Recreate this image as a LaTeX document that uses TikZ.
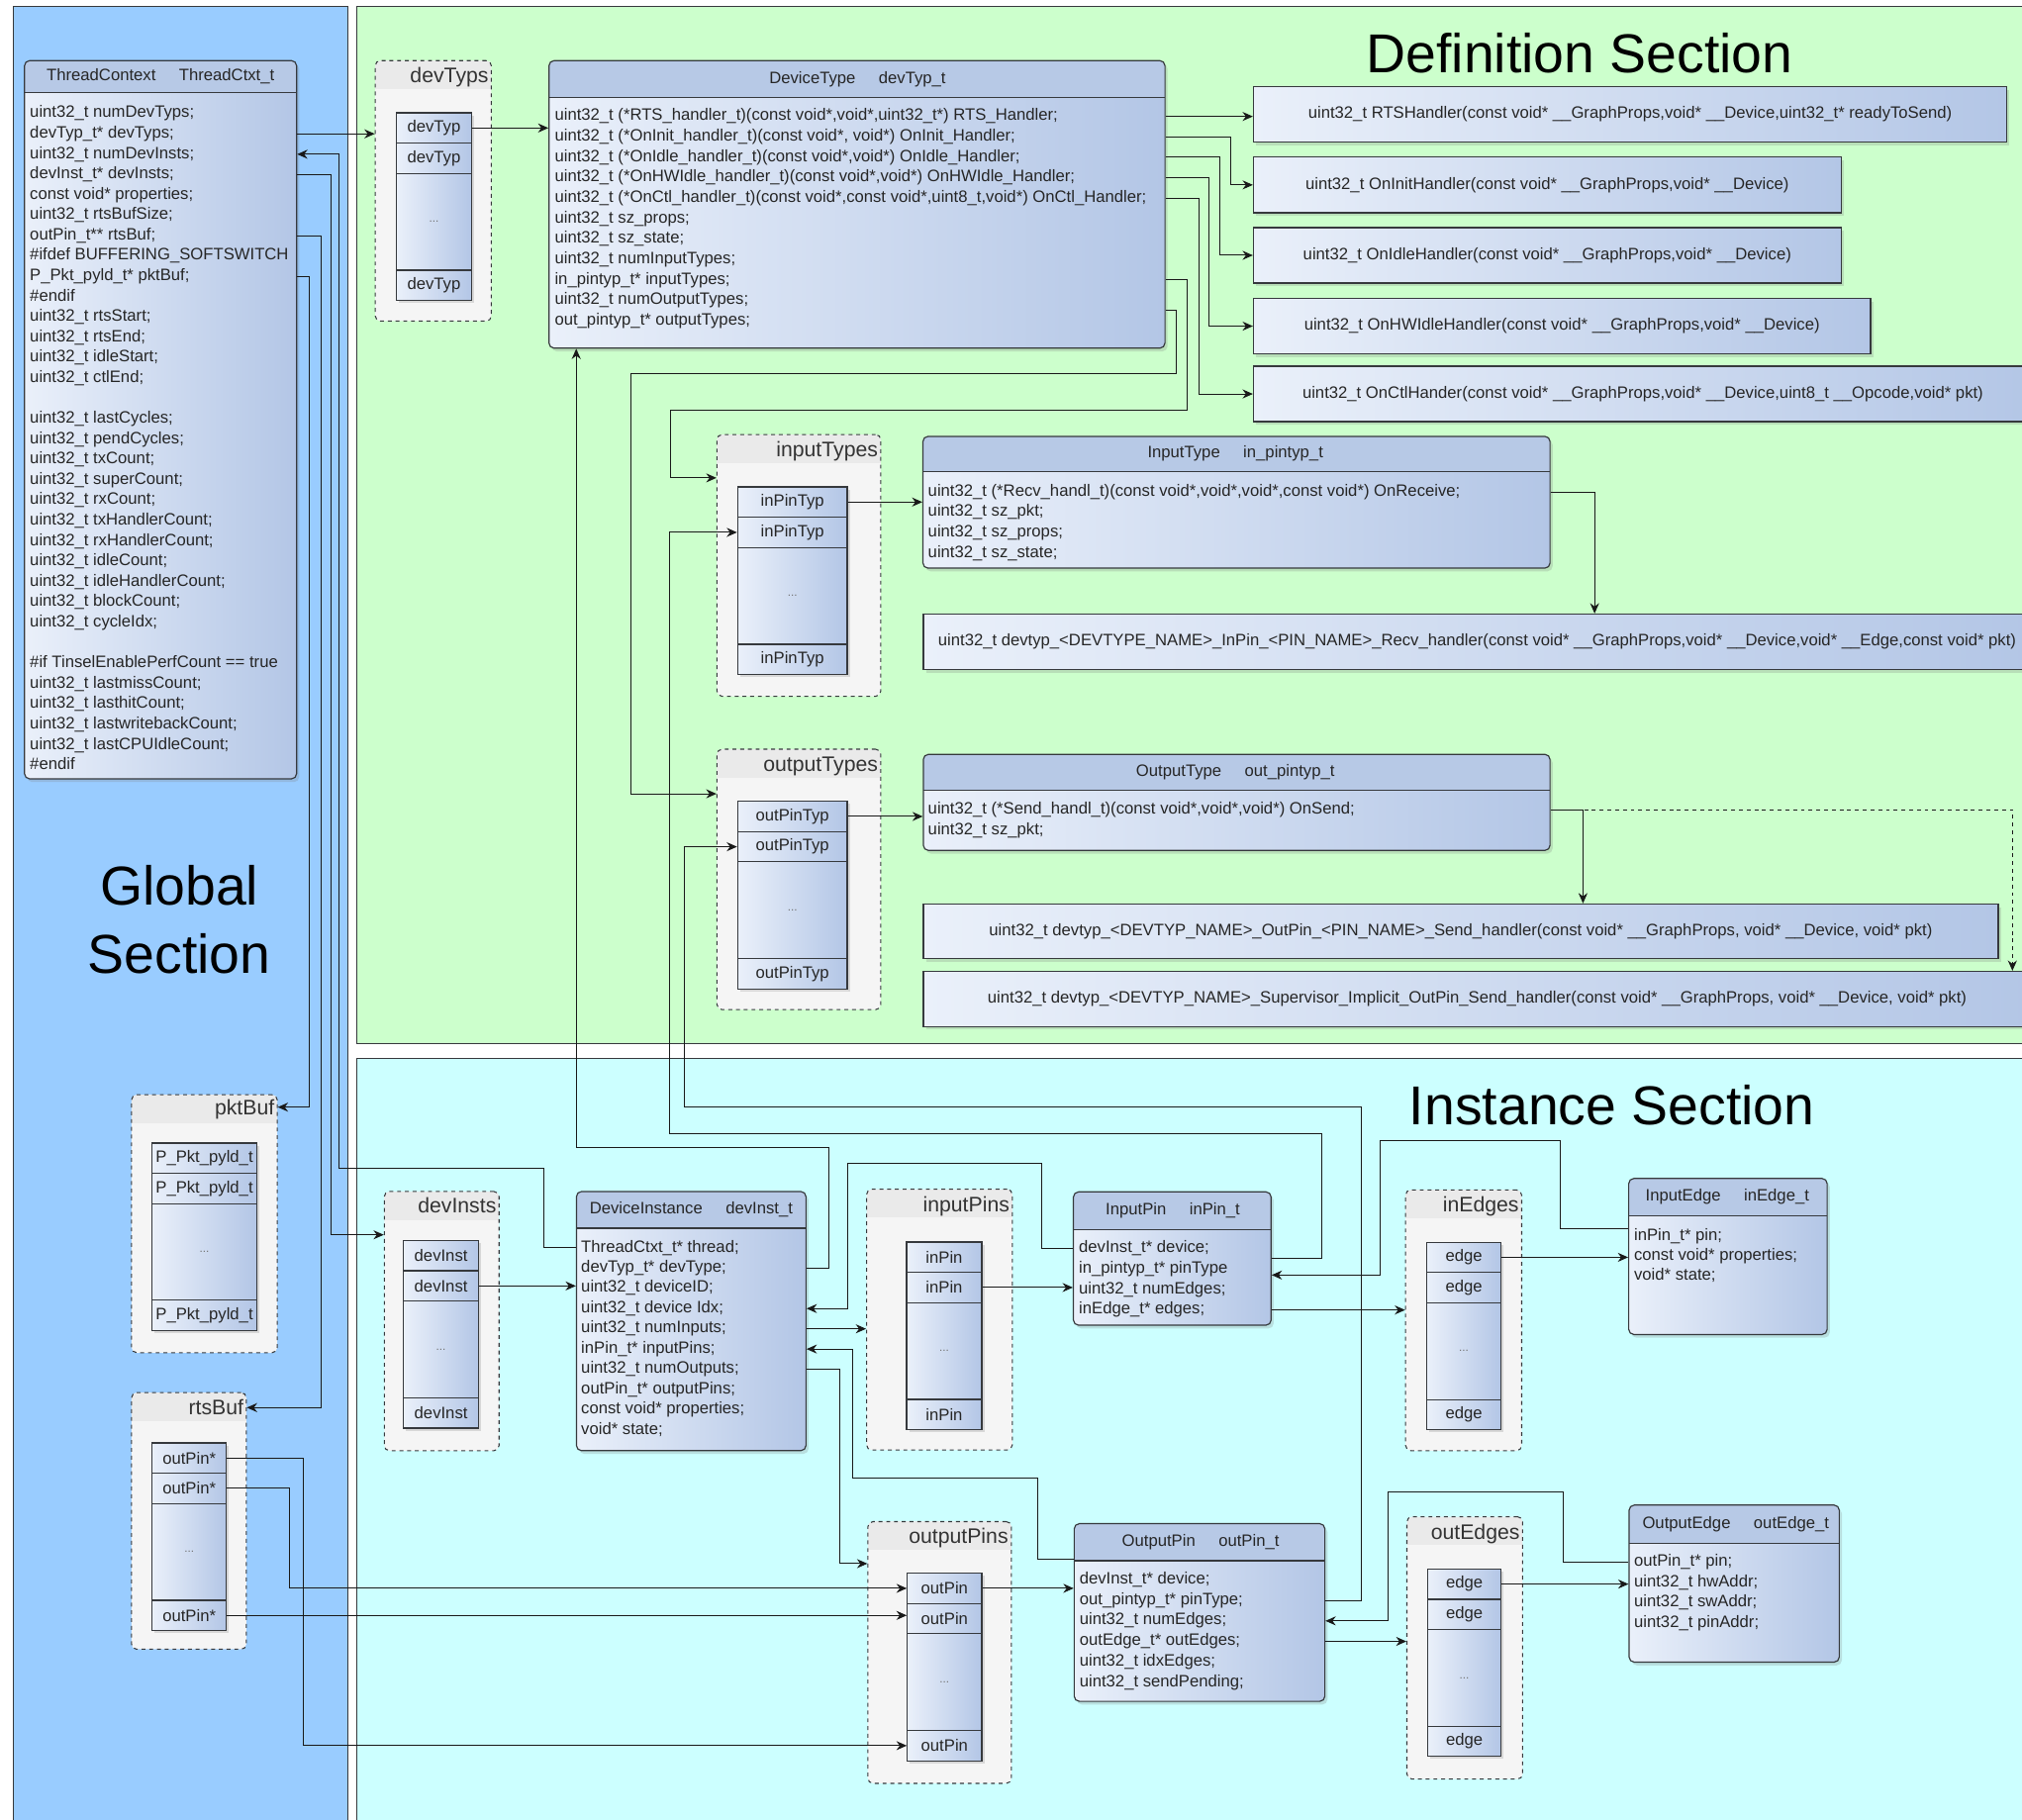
\documentclass[tikz,border=0pt]{standalone}
\usepackage{fontspec}
\setmainfont{Liberation Sans}
\usetikzlibrary{arrows.meta,shadows,calc}
\definecolor{globbg}{HTML}{99CCFF}
\definecolor{defbg}{HTML}{CCFFCC}
\definecolor{instbg}{HTML}{CCFFFF}
\definecolor{edgeline}{HTML}{36393D}
\definecolor{contfill}{HTML}{F5F5F5}
\definecolor{conthead}{HTML}{EAEAEA}
\definecolor{hdfill}{HTML}{B7C9E6}
\definecolor{lightblue}{HTML}{EAF0FA}
\definecolor{darkblue}{HTML}{B3C6E6}

\begin{document}
\begin{tikzpicture}[x=1pt,y=-1pt,
panel/.style={draw=edgeline,line width=0.8pt},
bigtitle/.style={inner sep=0,align=center,font=\fontsize{42.5}{53}\selectfont},
classbox/.style={draw=edgeline,line width=0.9pt,rounded corners=4pt,inner sep=0,left color=lightblue,right color=darkblue,drop shadow={opacity=0.25,shadow xshift=2pt,shadow yshift=-2.5pt},path picture={\fill[hdfill,sharp corners] (path picture bounding box.north west) rectangle ([yshift=-#1]path picture bounding box.north east);\draw[edgeline,line width=0.9pt,sharp corners] ([yshift=-#1]path picture bounding box.north west) -- ([yshift=-#1]path picture bounding box.north east);}},
classbox/.default=28pt,
container/.style={draw=edgeline,dashed,line width=0.8pt,rounded corners=4pt,fill=contfill,inner sep=0,path picture={\fill[conthead,sharp corners] (path picture bounding box.north west) rectangle ([yshift=-22pt]path picture bounding box.north east);}},
ctitle/.style={anchor=east,inner sep=0,font=\fontsize{16.3}{18}\selectfont,text=black!80,text height=11.8pt,text depth=3.4pt},
cell/.style={draw=edgeline,line width=0.9pt,left color=lightblue,right color=darkblue,minimum width=#1,minimum height=23.5pt,inner sep=0,font=\fontsize{12.8}{15}\selectfont,text=black!85,drop shadow={opacity=0.25,shadow xshift=2pt,shadow yshift=-2pt}},
dotcell/.style={cell=#1,minimum height=75pt,font=\fontsize{9}{10}\selectfont,text=black!55},
handler/.style={draw=edgeline,line width=0.9pt,left color=lightblue,right color=darkblue,inner sep=0,font=\fontsize{12.8}{15}\selectfont,text=black!85,drop shadow={opacity=0.25,shadow xshift=2pt,shadow yshift=-2.5pt}},
hdtext/.style={inner sep=0,font=\fontsize{12.8}{15}\selectfont,text=black!85,text height=9.2pt,text depth=2.8pt},
row/.style={anchor=west,inner sep=0,font=\fontsize{12.8}{15.8}\selectfont,text=black!85,text height=9.2pt,text depth=2.8pt},
ptr/.style={draw=black!90,line width=0.75pt,-{Stealth[length=8pt,width=7pt]}}]
\useasboundingbox (0,0) rectangle (1568,1411);
\clip (0,0) rectangle (1568,1411);
\fill[white] (0,0) rectangle (1568,1411);
\draw[panel,fill=globbg] (10,5) rectangle (270,1430);
\draw[panel,fill=defbg] (277,5) rectangle (1590,809);
\draw[panel,fill=instbg] (277,821) rectangle (1590,1430);
\node[bigtitle] (deftitle) at (1225,41) {Definition Section};
\node[bigtitle] (insttitle) at (1250,857) {Instance Section};
\node[bigtitle] (globtitle) at (139,713) {Global\\Section};
\node[container,minimum width=90,minimum height=202] (devtyps) at (336,148) {};
\node[ctitle] (devtyps-t) at (379,60) {devTyps};
\node[container,minimum width=127,minimum height=203] (intypes) at (619.5,438.5) {};
\node[ctitle] (intypes-t) at (681,350) {inputTypes};
\node[container,minimum width=127,minimum height=202] (outtypes) at (619.5,682) {};
\node[ctitle] (outtypes-t) at (681,594) {outputTypes};
\node[container,minimum width=113,minimum height=200] (pktbuf) at (158.5,949) {};
\node[ctitle] (pktbuf-t) at (213,860) {pktBuf};
\node[container,minimum width=89,minimum height=199] (rtsbuf) at (146.5,1179.5) {};
\node[ctitle] (rtsbuf-t) at (189,1093) {rtsBuf};
\node[container,minimum width=89,minimum height=201] (devinsts) at (342.5,1024.5) {};
\node[ctitle] (devinsts-t) at (385,936) {devInsts};
\node[container,minimum width=113,minimum height=202.2] (inpins) at (728.5,1023.4) {};
\node[ctitle] (inpins-t) at (783,935.5) {inputPins};
\node[container,minimum width=111.3,minimum height=203] (outpins) at (728.65,1281.5) {};
\node[ctitle] (outpins-t) at (782,1193) {outputPins};
\node[container,minimum width=90,minimum height=202.2] (inedges) at (1135,1023.9) {};
\node[ctitle] (inedges-t) at (1178,935.6) {inEdges};
\node[container,minimum width=89.7,minimum height=203.5] (outedges) at (1135.85,1277.95) {};
\node[ctitle] (outedges-t) at (1178.7,1189.5) {outEdges};
\node[classbox=25pt,minimum width=211,minimum height=557] (tc) at (124.5,325.5) {};
\node[hdtext] (tc-hd) at (124.5,59.5) {ThreadContext\hspace{18pt}ThreadCtxt\_t};
\node[row] (tc-1) at (23,88) {uint32\_t numDevTyps;};
\node[row] (tc-2) at (23,103.8) {devTyp\_t* devTyps;};
\node[row] (tc-3) at (23,119.6) {uint32\_t numDevInsts;};
\node[row] (tc-4) at (23,135.4) {devInst\_t* devInsts;};
\node[row] (tc-5) at (23,151.2) {const void* properties;};
\node[row] (tc-6) at (23,167) {uint32\_t rtsBufSize;};
\node[row] (tc-7) at (23,182.8) {outPin\_t** rtsBuf;};
\node[row] (tc-8) at (23,198.6) {\#ifdef BUFFERING\_SOFTSWITCH};
\node[row] (tc-9) at (23,214.4) {P\_Pkt\_pyld\_t* pktBuf;};
\node[row] (tc-10) at (23,230.2) {\#endif};
\node[row] (tc-11) at (23,246) {uint32\_t rtsStart;};
\node[row] (tc-12) at (23,261.8) {uint32\_t rtsEnd;};
\node[row] (tc-13) at (23,277.6) {uint32\_t idleStart;};
\node[row] (tc-14) at (23,293.4) {uint32\_t ctlEnd;};
\node[row] (tc-16) at (23,325) {uint32\_t lastCycles;};
\node[row] (tc-17) at (23,340.8) {uint32\_t pendCycles;};
\node[row] (tc-18) at (23,356.6) {uint32\_t txCount;};
\node[row] (tc-19) at (23,372.4) {uint32\_t superCount;};
\node[row] (tc-20) at (23,388.2) {uint32\_t rxCount;};
\node[row] (tc-21) at (23,404) {uint32\_t txHandlerCount;};
\node[row] (tc-22) at (23,419.8) {uint32\_t rxHandlerCount;};
\node[row] (tc-23) at (23,435.6) {uint32\_t idleCount;};
\node[row] (tc-24) at (23,451.4) {uint32\_t idleHandlerCount;};
\node[row] (tc-25) at (23,467.2) {uint32\_t blockCount;};
\node[row] (tc-26) at (23,483) {uint32\_t cycleIdx;};
\node[row] (tc-28) at (23,514.6) {\#if TinselEnablePerfCount == true};
\node[row] (tc-29) at (23,530.4) {uint32\_t lastmissCount;};
\node[row] (tc-30) at (23,546.2) {uint32\_t lasthitCount;};
\node[row] (tc-31) at (23,562) {uint32\_t lastwritebackCount;};
\node[row] (tc-32) at (23,577.8) {uint32\_t lastCPUIdleCount;};
\node[row] (tc-33) at (23,593.6) {\#endif};
\node[classbox=28.5pt,minimum width=477.7,minimum height=223] (dt) at (664.55,158.5) {};
\node[hdtext] (dt-hd) at (665,61.5) {DeviceType\hspace{18pt}devTyp\_t};
\node[row] (dt-1) at (430,90.3) {uint32\_t (*RTS\_handler\_t)(const void*,void*,uint32\_t*) RTS\_Handler;};
\node[row] (dt-2) at (430,106.15) {uint32\_t (*OnInit\_handler\_t)(const void*, void*) OnInit\_Handler;};
\node[row] (dt-3) at (430,122) {uint32\_t (*OnIdle\_handler\_t)(const void*,void*) OnIdle\_Handler;};
\node[row] (dt-4) at (430,137.85) {uint32\_t (*OnHWIdle\_handler\_t)(const void*,void*) OnHWIdle\_Handler;};
\node[row] (dt-5) at (430,153.7) {uint32\_t (*OnCtl\_handler\_t)(const void*,const void*,uint8\_t,void*) OnCtl\_Handler;};
\node[row] (dt-6) at (430,169.55) {uint32\_t sz\_props;};
\node[row] (dt-7) at (430,185.4) {uint32\_t sz\_state;};
\node[row] (dt-8) at (430,201.25) {uint32\_t numInputTypes;};
\node[row] (dt-9) at (430,217.1) {in\_pintyp\_t* inputTypes;};
\node[row] (dt-10) at (430,232.95) {uint32\_t numOutputTypes;};
\node[row] (dt-11) at (430,248.8) {out\_pintyp\_t* outputTypes;};
\node[handler,minimum width=584.2,minimum height=42.7] (hrts) at (1264.1,88.65) {uint32\_t RTSHandler(const void* \_\_GraphProps,void* \_\_Device,uint32\_t* readyToSend)};
\node[handler,minimum width=455.7,minimum height=43.2] (hinit) at (1199.85,143.4) {uint32\_t OnInitHandler(const void* \_\_GraphProps,void* \_\_Device)};
\node[handler,minimum width=455.7,minimum height=43] (hidle) at (1199.85,198) {uint32\_t OnIdleHandler(const void* \_\_GraphProps,void* \_\_Device)};
\node[handler,minimum width=478.6,minimum height=42.8] (hhwidle) at (1211.3,252.9) {uint32\_t OnHWIdleHandler(const void* \_\_GraphProps,void* \_\_Device)};
\node[handler,minimum width=604,minimum height=43] (hctl) at (1274,305.5) {uint32\_t OnCtlHander(const void* \_\_GraphProps,void* \_\_Device,uint8\_t \_\_Opcode,void* pkt)};
\node[classbox=27.3pt,minimum width=486.3,minimum height=102.2] (inty) at (958.85,389.5) {};
\node[hdtext] (inty-hd) at (958,352) {InputType\hspace{18pt}in\_pintyp\_t};
\node[row] (inty-1) at (719.5,381.5) {uint32\_t (*Recv\_handl\_t)(const void*,void*,void*,const void*) OnReceive;};
\node[row] (inty-2) at (719.5,397.4) {uint32\_t sz\_pkt;};
\node[row] (inty-3) at (719.5,413.2) {uint32\_t sz\_props;};
\node[row] (inty-4) at (719.5,429.1) {uint32\_t sz\_state;};
\node[handler,minimum width=859,minimum height=43.2] (hrecv) at (1145.5,497.8) {uint32\_t devtyp\_<DEVTYPE\_NAME>\_InPin\_<PIN\_NAME>\_Recv\_handler(const void* \_\_GraphProps,void* \_\_Device,void* \_\_Edge,const void* pkt)};
\node[classbox=27.6pt,minimum width=486,minimum height=74.5] (oty) at (959,622.25) {};
\node[hdtext] (oty-hd) at (958,599) {OutputType\hspace{18pt}out\_pintyp\_t};
\node[row] (oty-1) at (719.5,628) {uint32\_t (*Send\_handl\_t)(const void*,void*,void*) OnSend;};
\node[row] (oty-2) at (719.5,644) {uint32\_t sz\_pkt;};
\node[handler,minimum width=833.6,minimum height=42.6] (hsend) at (1132.8,722.3) {uint32\_t devtyp\_<DEVTYP\_NAME>\_OutPin\_<PIN\_NAME>\_Send\_handler(const void* \_\_GraphProps, void* \_\_Device, void* pkt)};
\node[handler,minimum width=859,minimum height=42.7] (hsuper) at (1145.5,774.65) {uint32\_t devtyp\_<DEVTYP\_NAME>\_Supervisor\_Implicit\_OutPin\_Send\_handler(const void* \_\_GraphProps, void* \_\_Device, void* pkt)};
\node[classbox=28.4pt,minimum width=178,minimum height=201] (di) at (536,1024.5) {};
\node[hdtext] (di-hd) at (536,938.5) {DeviceInstance\hspace{18pt}devInst\_t};
\node[row] (di-1) at (450.5,967.7) {ThreadCtxt\_t* thread;};
\node[row] (di-2) at (450.5,983.4) {devTyp\_t* devType;};
\node[row] (di-3) at (450.5,999.1) {uint32\_t deviceID;};
\node[row] (di-4) at (450.5,1014.8) {uint32\_t device Idx;};
\node[row] (di-5) at (450.5,1030.5) {uint32\_t numInputs;};
\node[row] (di-6) at (450.5,1046.2) {inPin\_t* inputPins;};
\node[row] (di-7) at (450.5,1061.9) {uint32\_t numOutputs;};
\node[row] (di-8) at (450.5,1077.6) {outPin\_t* outputPins;};
\node[row] (di-9) at (450.5,1093.3) {const void* properties;};
\node[row] (di-10) at (450.5,1109) {void* state;};
\node[classbox=29pt,minimum width=153.3,minimum height=103.4] (ip) at (909.05,976) {};
\node[hdtext] (ip-hd) at (909.5,939) {InputPin\hspace{18pt}inPin\_t};
\node[row] (ip-1) at (836.5,968.2) {devInst\_t* device;};
\node[row] (ip-2) at (836.5,984.1) {in\_pintyp\_t* pinType};
\node[row] (ip-3) at (836.5,1000) {uint32\_t numEdges;};
\node[row] (ip-4) at (836.5,1015.9) {inEdge\_t* edges;};
\node[classbox=29pt,minimum width=153.9,minimum height=121] (ie) at (1339.95,974.4) {};
\node[hdtext] (ie-hd) at (1339.5,928.5) {InputEdge\hspace{18pt}inEdge\_t};
\node[row] (ie-1) at (1267,958.7) {inPin\_t* pin;};
\node[row] (ie-2) at (1267,974.3) {const void* properties;};
\node[row] (ie-3) at (1267,989.9) {void* state;};
\node[classbox=28.7pt,minimum width=194.4,minimum height=137.8] (op) at (930.2,1250.5) {};
\node[hdtext] (op-hd) at (931,1196) {OutputPin\hspace{18pt}outPin\_t};
\node[row] (op-1) at (837,1225.2) {devInst\_t* device;};
\node[row] (op-2) at (837,1241.1) {out\_pintyp\_t* pinType;};
\node[row] (op-3) at (837,1257) {uint32\_t numEdges;};
\node[row] (op-4) at (837,1272.9) {outEdge\_t* outEdges;};
\node[row] (op-5) at (837,1288.8) {uint32\_t idxEdges;};
\node[row] (op-6) at (837,1304.7) {uint32\_t sendPending;};
\node[classbox=29.5pt,minimum width=163,minimum height=121.8] (oe) at (1344.8,1228.1) {};
\node[hdtext] (oe-hd) at (1346,1182.5) {OutputEdge\hspace{18pt}outEdge\_t};
\node[row] (oe-1) at (1267,1211.6) {outPin\_t* pin;};
\node[row] (oe-2) at (1267,1227.3) {uint32\_t hwAddr;};
\node[row] (oe-3) at (1267,1243) {uint32\_t swAddr;};
\node[row] (oe-4) at (1267,1258.7) {uint32\_t pinAddr;};
\node[cell=58.2] (dtyp-1) at (336.5,99.25) {devTyp};
\node[cell=58.2] (dtyp-2) at (336.5,122.75) {devTyp};
\node[dotcell=58.2] (dtyp-3) at (336.5,172) {...};
\node[cell=58.2] (dtyp-4) at (336.5,221.25) {devTyp};
\node[cell=85] (inptyp-1) at (614.5,389.35) {inPinTyp};
\node[cell=85] (inptyp-2) at (614.5,412.85) {inPinTyp};
\node[dotcell=85] (inptyp-3) at (614.5,462.1) {...};
\node[cell=85] (inptyp-4) at (614.5,511.35) {inPinTyp};
\node[cell=85] (optyp-1) at (614.5,633.15) {outPinTyp};
\node[cell=85] (optyp-2) at (614.5,656.65) {outPinTyp};
\node[dotcell=85] (optyp-3) at (614.5,705.9) {...};
\node[cell=85] (optyp-4) at (614.5,755.15) {outPinTyp};
\node[cell=81] (pkt-1) at (158.5,898.15) {P\_Pkt\_pyld\_t};
\node[cell=81] (pkt-2) at (158.5,921.65) {P\_Pkt\_pyld\_t};
\node[dotcell=81] (pkt-3) at (158.5,970.9) {...};
\node[cell=81] (pkt-4) at (158.5,1020.15) {P\_Pkt\_pyld\_t};
\node[cell=57.4] (rb-1) at (146.7,1130.75) {outPin*};
\node[cell=57.4] (rb-2) at (146.7,1154.25) {outPin*};
\node[dotcell=57.4] (rb-3) at (146.7,1203.5) {...};
\node[cell=57.4] (rb-4) at (146.7,1252.75) {outPin*};
\node[cell=58] (dinst-1) at (342,973.75) {devInst};
\node[cell=58] (dinst-2) at (342,997.25) {devInst};
\node[dotcell=58] (dinst-3) at (342,1046.5) {...};
\node[cell=58] (dinst-4) at (342,1095.75) {devInst};
\node[cell=58.3] (ipin-1) at (732.15,974.95) {inPin};
\node[cell=58.3] (ipin-2) at (732.15,998.45) {inPin};
\node[dotcell=58.3] (ipin-3) at (732.15,1047.7) {...};
\node[cell=58.3] (ipin-4) at (732.15,1096.95) {inPin};
\node[cell=57.7] (opin-1) at (732.45,1231.75) {outPin};
\node[cell=57.7] (opin-2) at (732.45,1255.25) {outPin};
\node[dotcell=57.7] (opin-3) at (732.45,1304.5) {...};
\node[cell=57.7] (opin-4) at (732.45,1353.75) {outPin};
\node[cell=57.6] (iedge-1) at (1135.2,975.05) {edge};
\node[cell=57.6] (iedge-2) at (1135.2,998.55) {edge};
\node[dotcell=57.6] (iedge-3) at (1135.2,1047.8) {...};
\node[cell=57.6] (iedge-4) at (1135.2,1097.05) {edge};
\node[cell=57.1] (oedge-1) at (1135.55,1228.45) {edge};
\node[cell=57.1] (oedge-2) at (1135.55,1251.95) {edge};
\node[dotcell=57.1] (oedge-3) at (1135.55,1301.2) {...};
\node[cell=57.1] (oedge-4) at (1135.55,1350.45) {edge};
\draw[ptr] (tc-2 -| tc.east) -- (tc-2 -| devtyps.west);
\draw[ptr] (dtyp-1.east) -- (dtyp-1 -| dt.west);
\draw[ptr] (dt-1 -| dt.east) -- (dt-1 -| hrts.west);
\draw[ptr] (dt-2 -| dt.east) -- ++(50.6,0) |- (hinit.west);
\draw[ptr] (dt-3 -| dt.east) -- ++(42.2,0) |- (hidle.west);
\draw[ptr] (dt-4 -| dt.east) -- ++(33.6,0) |- (hhwidle.west);
\draw[ptr] (dt-5 -| dt.east) -- ++(26,0) |- (hctl.west);
\draw[ptr] (dt-9 -| dt.east) -- ++(17,0) |- (520,318) |- ($(intypes.north west)+(0,34)$);
\draw[ptr] ($(dt-10 -| dt.east)+(0,8)$) -- ++(8.6,0) |- (489,290) |- ($(outtypes.north west)+(0,35)$);
\draw[ptr] (inptyp-1.east) -- (inptyp-1 -| inty.west);
\draw[ptr] (inty-1 -| inty.east) -| ($(hrecv.north west)+(521,0)$);
\draw[ptr] (optyp-1.east) -- (optyp-1 -| oty.west);
\draw[ptr] (oty-1 -| oty.east) -| ($(hsend.north west)+(512,0)$);
\draw[ptr,dashed] ($(oty-1 -| oty.east)+(26,0)$) -| ($(hsuper.north west)+(845,0)$);
\draw[ptr] (di-1 -| di.west) -| (422,906) -- (263,906) |- (tc-3 -| tc.east);
\draw[ptr] (tc-4 -| tc.east) -- ++(26,0) |- ($(devinsts.north west)+(0,34)$);
\draw[ptr] (tc-7 -| tc.east) -- ++(18.4,0) |- ($(rtsbuf.north east)+(0,12)$);
\draw[ptr] (tc-9 -| tc.east) -- ++(9.6,0) |- ($(pktbuf.north east)+(0,10)$);
\draw[ptr] (rb-1.east) -- ++(59.6,0) |- (opin-4.west);
\draw[ptr] (rb-2.east) -- ++(49,0) |- (opin-1.west);
\draw[ptr] (rb-4.east) -- (rb-4 -| opin-2.west);
\draw[ptr] (dinst-2.east) -- (dinst-2 -| di.west);
\draw[ptr] (di-2 -| di.east) -| (643,890) -| ($(dt.south west)+(21.6,0)$);
\draw[ptr] (ip-1 -| ip.west) -| (808,902) -- (657,902) |- (di-4 -| di.east);
\draw[ptr] (di-5 -| di.east) -- (di-5 -| inpins.west);
\draw[ptr] ($(op.north west)+(0,28)$) -| (805,1146) -- (661,1146) |- (di-6 -| di.east);
\draw[ptr] (di-7 -| di.east) -- ++(26,0) |- ($(outpins.north west)+(0,33)$);
\draw[ptr] (ipin-2.east) -- (ipin-2 -| ip.west);
\draw[ptr] ($(ip-2 -| ip.east)+(0,-8)$) -| (1024.6,879) -- (519,879) |- (inptyp-2.west);
\draw[ptr] (ip-4 -| ip.east) -- (ip-4 -| inedges.west);
\draw[ptr] ($(ie-1 -| ie.west)+(0,-6)$) -| (1210.3,884.5) -- (1070,884.5) |- ($(ip-2 -| ip.east)+(0,4.7)$);
\draw[ptr] (iedge-1.east) -- (iedge-1 -| ie.west);
\draw[ptr] (opin-1.east) -- (opin-1 -| op.west);
\draw[ptr] (op-2 -| op.east) -- ++(28,0) |- (531,858.6) |- (optyp-2.west);
\draw[ptr] (oe-1 -| oe.west) -| (1212,1157) -- (1076.5,1157) |- (op-3 -| op.east);
\draw[ptr] (op-4 -| op.east) -- (op-4 -| outedges.west);
\draw[ptr] (oedge-1.east) -- (oedge-1 -| oe.west);
\end{tikzpicture}
\end{document}
